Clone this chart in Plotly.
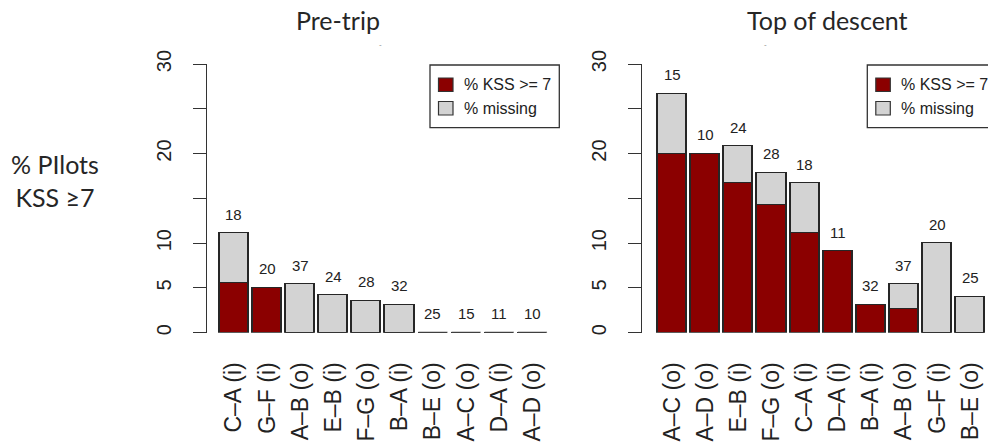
import plotly.graph_objects as go

# ---- data -------------------------------------------------------------
pre_routes = ["C–A (i)", "G–F (i)", "A–B (o)", "E–B (i)", "F–G (o)",
              "B–A (i)", "B–E (o)", "A–C (o)", "D–A (i)", "A–D (o)"]
pre_kss = [5.56, 5.0, 0, 0, 0, 0, 0, 0, 0, 0]
pre_missing = [5.56, 0, 5.41, 4.17, 3.57, 3.13, 0, 0, 0, 0]
pre_n = [18, 20, 37, 24, 28, 32, 25, 15, 11, 10]

tod_routes = ["A–C (o)", "A–D (o)", "E–B (i)", "F–G (o)", "C–A (i)",
              "D–A (i)", "B–A (i)", "A–B (o)", "G–F (i)", "B–E (o)"]
tod_kss = [20.0, 20.0, 16.67, 14.29, 11.11, 9.09, 3.13, 2.70, 0, 0]
tod_missing = [6.67, 0, 4.17, 3.57, 5.56, 0, 0, 2.70, 10.0, 4.0]
tod_n = [15, 10, 24, 28, 18, 11, 32, 37, 20, 25]

y_ticks = [0, 5, 10, 15, 20, 25, 30]
y_ticktext = ["0", "5", "10", "", "20", "", "30"]

# ---- styling ------------------------------------------------------------
W, H = 988, 444
RED = "#8b0000"
GREY = "#d3d3d3"
EDGE = "#262626"
TXT = "#222222"
SANS = "Liberation Sans, Arial, sans-serif"
HUMANIST = "Lato, Open Sans, sans-serif"
BAR_W = 0.88


def px_x(v):
    return v / W


def px_y(v):
    return 1 - v / H


fig = go.Figure()
shapes = []
annotations = []

panels = [
    ("x", "y", pre_routes, pre_kss, pre_missing, pre_n),
    ("x2", "y2", tod_routes, tod_kss, tod_missing, tod_n),
]

for xa, ya, routes, kss, miss, ns in panels:
    pos = list(range(len(routes)))
    fig.add_trace(go.Bar(
        x=pos, y=kss, xaxis=xa, yaxis=ya, width=BAR_W,
        marker=dict(color=RED, line=dict(color=EDGE, width=1.4)),
        showlegend=False, hoverinfo="skip"))
    fig.add_trace(go.Bar(
        x=pos, y=miss, xaxis=xa, yaxis=ya, width=BAR_W,
        marker=dict(color=GREY, line=dict(color=EDGE, width=1.4)),
        showlegend=False, hoverinfo="skip"))
    for i, (k, m, n) in enumerate(zip(kss, miss, ns)):
        total = k + m
        if total == 0:
            # empty bars collapse to a flat outline on the baseline
            shapes.append(dict(type="line", xref=xa, yref=ya,
                               x0=i - BAR_W / 2, x1=i + BAR_W / 2, y0=0, y1=0,
                               line=dict(color="#444444", width=2)))
        annotations.append(dict(x=i, y=total, xref=xa, yref=ya, text=str(n),
                                showarrow=False, yshift=19, yanchor="middle",
                                xanchor="center",
                                font=dict(family=SANS, size=15, color=TXT)))

# ---- hand-drawn legends (top right of each panel) ---------------------
for box_left in (430, 867.3):
    shapes.append(dict(type="rect", xref="paper", yref="paper",
                       x0=px_x(box_left), x1=px_x(box_left + 129.3),
                       y0=px_y(65), y1=px_y(127.7),
                       line=dict(color="#333333", width=1.3)))
    for row, (col, label) in enumerate([(RED, "% KSS >= 7"), (GREY, "% missing")]):
        top = 78 + row * 23.5
        shapes.append(dict(type="rect", xref="paper", yref="paper",
                           x0=px_x(box_left + 8.5), x1=px_x(box_left + 23),
                           y0=px_y(top), y1=px_y(top + 13.5),
                           fillcolor=col, line=dict(color="#333333", width=1.2)))
        annotations.append(dict(x=px_x(box_left + 31.5), y=px_y(top + 7),
                                xref="paper", yref="paper", text=label,
                                showarrow=False, xanchor="left", yanchor="middle",
                                font=dict(family=SANS, size=16, color=TXT)))

# ---- titles and side label -------------------------------------------
for cx, title in ((338, "Pre-trip"), (827.5, "Top of descent")):
    annotations.append(dict(x=px_x(cx), y=px_y(20), xref="paper", yref="paper",
                            text=title, showarrow=False, yanchor="middle",
                            xanchor="center",
                            font=dict(family=HUMANIST, size=25, color="#262626")))
for cx in (380.7, 765):
    annotations.append(dict(x=px_x(cx), y=px_y(45), xref="paper", yref="paper",
                            text="-", showarrow=False, yanchor="middle",
                            xanchor="center",
                            font=dict(family=SANS, size=8, color="#8a8a8a")))
annotations.append(dict(x=px_x(55), y=px_y(180), xref="paper", yref="paper",
                        text="% PIlots<br>KSS ≥7", showarrow=False,
                        xanchor="center", yanchor="middle", align="center",
                        font=dict(family=HUMANIST, size=25, color="#262626")))

# ---- axes ----------------------------------------------------------------
y_dom = [px_y(332.7), px_y(64)]
yaxis_common = dict(
    range=[0, 30], tickvals=y_ticks, ticktext=y_ticktext, tickangle=-90,
    ticks="outside", ticklen=13, tickwidth=1.4, tickcolor="#333333",
    showline=True, linecolor="#333333", linewidth=1.4,
    showgrid=False, zeroline=False, ticklabelstandoff=14, automargin=False,
    tickfont=dict(family=SANS, size=20, color=TXT), domain=y_dom,
    fixedrange=True)
xaxis_common = dict(
    tickvals=list(range(10)), tickangle=-90, ticks="", showline=False,
    showgrid=False, zeroline=False, ticklabelstandoff=24, automargin=False,
    tickfont=dict(family=SANS, size=23, color=TXT), fixedrange=True)

fig.update_layout(
    width=W, height=H, margin=dict(l=0, r=0, t=0, b=0, autoexpand=False),
    paper_bgcolor="white", plot_bgcolor="white", barmode="stack",
    bargap=0,
    xaxis=dict(xaxis_common, domain=[px_x(206.7), px_x(559)],
               range=[-0.82, 9.8], ticktext=pre_routes, anchor="y"),
    yaxis=dict(yaxis_common, anchor="x"),
    xaxis2=dict(xaxis_common, domain=[px_x(641.7), 1.0],
                range=[-0.93, 9.54], ticktext=tod_routes, anchor="y2"),
    yaxis2=dict(yaxis_common, anchor="x2"),
    shapes=shapes, annotations=annotations,
)

fig.write_html("out.html")
